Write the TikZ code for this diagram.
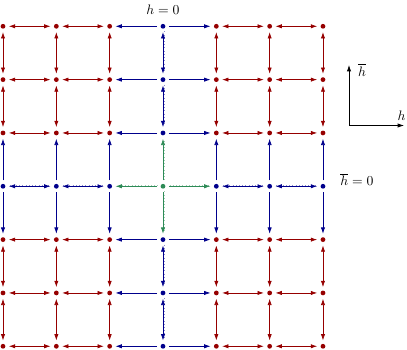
\documentclass[tikz,border=0pt]{standalone}
\usetikzlibrary{arrows.meta}
\definecolor{dred}{RGB}{150,0,0}
\definecolor{dblue}{RGB}{0,0,140}
\definecolor{dgreen}{RGB}{46,139,87}
\begin{document}
\begin{tikzpicture}[x=0.73pt,y=-0.73pt,
  dot/.style={circle,fill=#1,draw=none,inner sep=0pt,minimum size=3.5pt,outer sep=2.5pt},
  one/.style={line width=0.5pt,-{Latex[length=4.6pt,width=3.1pt]}},
  two/.style={line width=0.5pt,{Latex[length=4.6pt,width=3.1pt]}-{Latex[length=4.6pt,width=3.1pt]}},
  dotline/.style={postaction={draw,-,dotted,line width=0.35pt,opacity=0.45,transform canvas={shift={(0.55pt,0.55pt)}}}},
  axis/.style={line width=0.5pt,black,-{Latex[length=4.6pt,width=3.1pt]}},
  lbl/.style={inner sep=1pt}]
\useasboundingbox (0,0) rectangle (407,350);
% dots
\foreach \i in {0,...,6}{\foreach \j in {0,...,6}{
  \def\c{dred}
  \ifnum\i=3 \def\c{dblue}\fi
  \ifnum\j=3 \def\c{dblue}\fi
  \ifnum\i=3 \ifnum\j=3 \def\c{dgreen}\fi\fi
  \node[dot=\c] (n\i\j) at ({3+53.33*\i},{26.3+53.33*\j}) {};
}}
% horizontal edges
\foreach \j in {0,...,6}{\foreach \i in {0,...,5}{
  \pgfmathtruncatemacro\k{\i+1}
  \ifnum\j=3
    \ifnum\i=2 \draw[one,dgreen,dotline] (n33) -- (n23);
    \else\ifnum\i=3 \draw[one,dgreen,dotline] (n33) -- (n43);
    \else \draw[two,dblue,dotline] (n\i3) -- (n\k3);
    \fi\fi
  \else
    \ifnum\i=2 \draw[one,dblue] (n3\j) -- (n2\j);
    \else\ifnum\i=3 \draw[one,dblue] (n3\j) -- (n4\j);
    \else \draw[two,dred] (n\i\j) -- (n\k\j);
    \fi\fi
  \fi
}}
% vertical edges
\foreach \i in {0,...,6}{\foreach \j in {0,...,5}{
  \pgfmathtruncatemacro\k{\j+1}
  \ifnum\i=3
    \ifnum\j=2 \draw[one,dgreen,dotline] (n33) -- (n32);
    \else\ifnum\j=3 \draw[one,dgreen,dotline] (n33) -- (n34);
    \else \draw[two,dblue,dotline] (n3\j) -- (n3\k);
    \fi\fi
  \else
    \ifnum\j=2 \draw[one,dblue] (n\i3) -- (n\i2);
    \else\ifnum\j=3 \draw[one,dblue] (n\i3) -- (n\i4);
    \else \draw[two,dred] (n\i\j) -- (n\i\k);
    \fi\fi
  \fi
}}
% labels
\node[lbl] (top) at (163,9.5) {$h=0$};
\node[lbl] (side) at (357,179.5) {$\overline{h}=0$};
% axes
\coordinate (o) at (349,125.5);
\coordinate (ay) at (349,65);
\coordinate (ax) at (404,125.5);
\draw[axis] (o) -- (ay);
\draw[axis] (o) -- (ax);
\node[lbl] (lhb) at (362,70) {$\overline{h}$};
\node[lbl] (lh) at (401.5,116) {$h$};
\end{tikzpicture}
\end{document}
